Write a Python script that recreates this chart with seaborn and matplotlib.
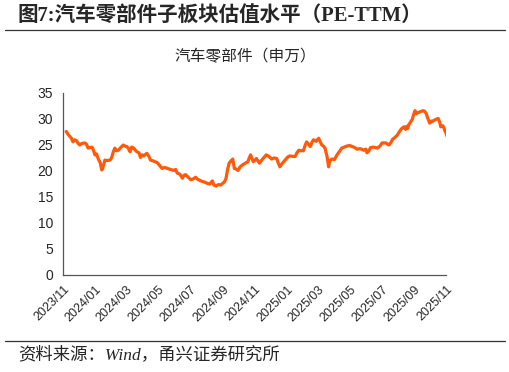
import matplotlib
matplotlib.use("Agg")
import matplotlib.pyplot as plt
import matplotlib.dates as mdates
from matplotlib.lines import Line2D
import pandas as pd
import seaborn as sns

# ─── Data ─────────────────────────────────────────────────────────────────────
dates = [
    "2023-11-07", "2023-11-11", "2023-11-17", "2023-11-20", "2023-11-23", "2023-11-27",
    "2023-11-30", "2023-12-03", "2023-12-07", "2023-12-13", "2023-12-16", "2023-12-19",
    "2023-12-26", "2023-12-28", "2024-01-01", "2024-01-04", "2024-01-07", "2024-01-11",
    "2024-01-14", "2024-01-16", "2024-01-20", "2024-01-24", "2024-01-30", "2024-02-02",
    "2024-02-05", "2024-02-08", "2024-02-11", "2024-02-15", "2024-02-19", "2024-02-24",
    "2024-02-27", "2024-03-02", "2024-03-05", "2024-03-08", "2024-03-11", "2024-03-15",
    "2024-03-18", "2024-03-21", "2024-03-25", "2024-03-28", "2024-03-31", "2024-04-03",
    "2024-04-09", "2024-04-13", "2024-04-16", "2024-04-22", "2024-04-29", "2024-05-03",
    "2024-05-08", "2024-05-13", "2024-05-18", "2024-05-24", "2024-05-31", "2024-06-03",
    "2024-06-06", "2024-06-11", "2024-06-16", "2024-06-19", "2024-06-22", "2024-06-26",
    "2024-07-02", "2024-07-07", "2024-07-11", "2024-07-15", "2024-07-21", "2024-07-27",
    "2024-08-03", "2024-08-07", "2024-08-12", "2024-08-15", "2024-08-19", "2024-08-24",
    "2024-08-28", "2024-09-04", "2024-09-07", "2024-09-10", "2024-09-13", "2024-09-17",
    "2024-09-20", "2024-09-23", "2024-09-26", "2024-09-30", "2024-10-04", "2024-10-09",
    "2024-10-14", "2024-10-19", "2024-10-21", "2024-10-24", "2024-10-29", "2024-11-01",
    "2024-11-04", "2024-11-10", "2024-11-16", "2024-11-23", "2024-11-28", "2024-12-03",
    "2024-12-08", "2024-12-13", "2024-12-16", "2024-12-19", "2024-12-23", "2024-12-29",
    "2025-01-03", "2025-01-07", "2025-01-13", "2025-01-17", "2025-01-20", "2025-01-24",
    "2025-01-28", "2025-02-02", "2025-02-05", "2025-02-08", "2025-02-11", "2025-02-15",
    "2025-02-18", "2025-02-21", "2025-02-26", "2025-03-03", "2025-03-06", "2025-03-09",
    "2025-03-12", "2025-03-15", "2025-03-19", "2025-03-22", "2025-03-24", "2025-03-28",
    "2025-04-02", "2025-04-07", "2025-04-12", "2025-04-16", "2025-04-21", "2025-04-26",
    "2025-05-01", "2025-05-06", "2025-05-11", "2025-05-15", "2025-05-21", "2025-05-28",
    "2025-06-01", "2025-06-03", "2025-06-07", "2025-06-10", "2025-06-16", "2025-06-23",
    "2025-06-28", "2025-07-02", "2025-07-09", "2025-07-15", "2025-07-19", "2025-07-22",
    "2025-07-26", "2025-07-31", "2025-08-03", "2025-08-07", "2025-08-10", "2025-08-13",
    "2025-08-16", "2025-08-18", "2025-08-20", "2025-08-22", "2025-08-26", "2025-08-29",
    "2025-08-31", "2025-09-03", "2025-09-05", "2025-09-08", "2025-09-13", "2025-09-18",
    "2025-09-21", "2025-09-24", "2025-09-27", "2025-10-01", "2025-10-04", "2025-10-07",
    "2025-10-12", "2025-10-17", "2025-10-20", "2025-10-22", "2025-10-26", "2025-10-28",
    "2025-10-30", "2025-11-01", "2025-11-03",
]
pe_ttm = [
    27.6, 27.0, 26.3, 25.6, 26.0, 25.8,
    25.3, 25.0, 25.3, 25.4, 25.1, 24.4,
    24.6, 24.3, 23.1, 23.3, 22.4, 21.6,
    20.2, 20.6, 22.1, 22.0, 22.1, 22.6,
    23.7, 24.4, 23.9, 24.0, 24.5, 25.0,
    24.8, 24.7, 24.3, 23.7, 24.6, 24.4,
    24.0, 23.7, 23.5, 22.6, 23.1, 22.9,
    23.4, 22.8, 22.1, 21.9, 21.6, 21.1,
    20.5, 20.7, 20.5, 20.3, 20.1, 20.3,
    19.6, 19.4, 18.6, 19.2, 19.3, 18.9,
    18.3, 18.5, 18.8, 18.4, 18.1, 17.9,
    17.6, 17.5, 18.1, 17.3, 17.1, 17.4,
    17.3, 17.9, 18.5, 20.2, 21.5, 22.0,
    22.3, 20.5, 20.4, 20.1, 20.8, 21.2,
    21.5, 21.8, 22.4, 23.1, 21.8, 22.0,
    22.4, 21.5, 22.3, 23.1, 22.8, 22.3,
    22.5, 22.4, 21.5, 20.8, 21.4, 22.1,
    22.7, 22.9, 22.8, 22.8, 23.4, 24.0,
    23.9, 23.9, 24.9, 25.6, 25.2, 24.7,
    25.5, 26.0, 25.7, 26.3, 25.6, 25.0,
    24.8, 24.4, 22.8, 20.8, 21.9, 22.3,
    22.2, 23.1, 23.8, 24.4, 24.6, 24.8,
    24.9, 24.7, 24.5, 24.2, 24.3, 24.0,
    24.2, 23.5, 23.9, 24.5, 24.6, 24.4,
    24.8, 25.4, 25.4, 25.0, 25.5, 26.1,
    26.4, 26.9, 27.4, 28.0, 28.3, 28.5,
    28.0, 28.6, 28.2, 28.9, 29.5, 30.0,
    30.8, 31.6, 31.0, 31.2, 31.4, 31.6,
    31.5, 31.1, 30.2, 29.2, 29.6, 29.6,
    29.9, 30.1, 29.4, 28.5, 28.7, 28.3,
    27.7, 27.3, 26.7,
]
y_ticks = [0, 5, 10, 15, 20, 25, 30, 35]

fig_title = "图7:汽车零部件子板块估值水平（PE-TTM）"
chart_title = "汽车零部件（申万）"
source_note = "资料来源：Wind，甬兴证券研究所"

# ─── Style ────────────────────────────────────────────────────────────────────
sns.set_style("white")
plt.rcParams["font.family"] = ["Liberation Sans", "Noto Sans CJK SC", "DejaVu Sans"]

df = pd.DataFrame({"date": pd.to_datetime(dates), "pe": pe_ttm})

fig = plt.figure(figsize=(5.10, 3.72), dpi=100)
ax = fig.add_axes([63 / 510, 1 - 275 / 372, 383 / 510, 182 / 372])

sns.lineplot(data=df, x="date", y="pe", ax=ax, color="#FF5A0A", linewidth=2.3)

ax.set_xlim(pd.Timestamp("2023-11-01"), pd.Timestamp("2025-11-01"))
ax.set_ylim(0, 35)
ax.set_yticks(y_ticks)
ax.xaxis.set_major_locator(mdates.MonthLocator(bymonth=[1, 3, 5, 7, 9, 11]))
ax.xaxis.set_major_formatter(mdates.DateFormatter("%Y/%m"))
ax.set_xlabel("")
ax.set_ylabel("")

for side in ("top", "right"):
    ax.spines[side].set_visible(False)
for side in ("left", "bottom"):
    ax.spines[side].set_color("#555555")
    ax.spines[side].set_linewidth(0.9)

ax.tick_params(axis="y", which="major", direction="out", length=4, width=0.9,
               color="#555555", labelsize=10, pad=3)
ax.tick_params(axis="x", which="major", direction="out", length=4, width=0.9,
               color="#555555", labelsize=9, pad=2)
plt.setp(ax.get_xticklabels(), rotation=45, ha="right", rotation_mode="anchor")

# ─── Titles, rules and source note ────────────────────────────────────────────
fig.text(18 / 510, 1 - 16 / 372, fig_title, fontsize=14.8, fontweight="bold",
         family=["Liberation Serif", "Noto Sans CJK SC"], ha="left", va="center")
fig.text(245 / 510, 1 - 57 / 372, chart_title, fontsize=11.3,
         family=["Noto Sans CJK SC"], ha="center", va="center")
fig.text(18 / 510, 1 - 355 / 372, source_note, fontsize=12.5, style="italic",
         family=["Liberation Serif", "Noto Sans CJK SC"], ha="left", va="center")

for y_px in (30, 341):
    fig.add_artist(Line2D([5 / 510, 505 / 510], [1 - y_px / 372] * 2,
                          color="#333333", linewidth=0.9))

fig.savefig("out.png", dpi=100)
